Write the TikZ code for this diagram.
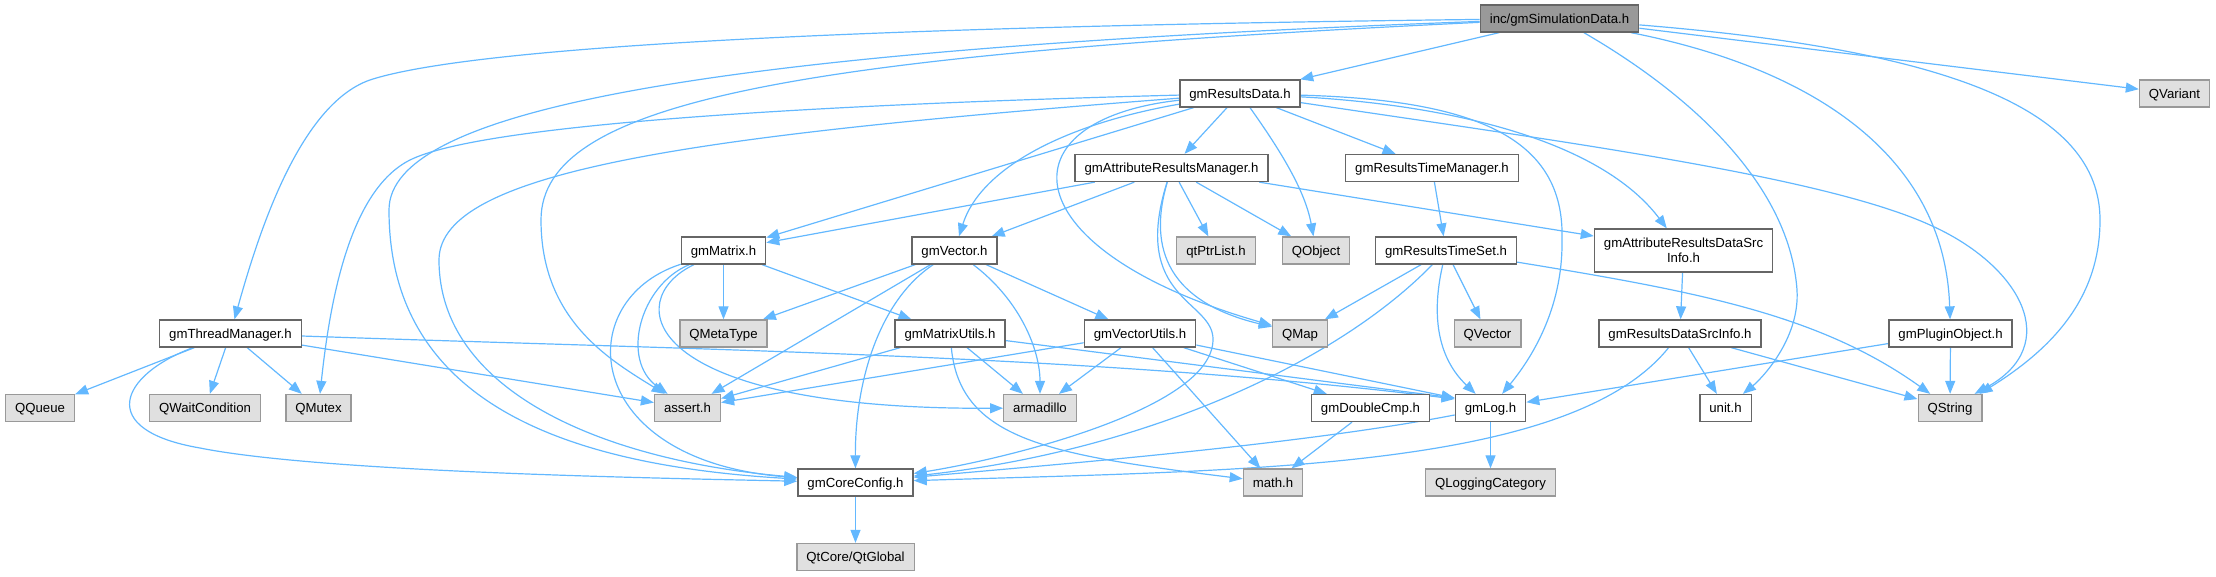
\documentclass[tikz,border=0pt]{standalone}
\usepackage{fontspec}
\setmainfont{Liberation Sans}
\usetikzlibrary{arrows.meta}

\definecolor{depblue}{HTML}{63B8FF}
\definecolor{docline}{HTML}{666666}
\definecolor{extline}{HTML}{999999}
\definecolor{extfill}{HTML}{E0E0E0}
\definecolor{rootfill}{HTML}{999999}

\pgfdeclarelayer{edges}
\pgfsetlayers{edges,main}

\begin{document}
\begin{tikzpicture}[x=1pt,y=-1pt,
  font=\fontsize{13.2}{15.5}\selectfont,
  hdr/.style={draw=docline,line width=1.3pt,fill=white,inner xsep=9.5pt,inner ysep=0pt,
    minimum height=27pt,text height=9.5pt,text depth=0pt},
  ext/.style={hdr,draw=extline,fill=extfill},
  root/.style={hdr,fill=rootfill},
  dep/.style={depblue,line width=1.2pt,-{Triangle[length=13pt,width=10pt]}}]

\useasboundingbox (0,0) rectangle (2216,576);

\node[root] (sim) at (1559.5,18.5) {inc/gmSimulationData.h};

\node[hdr] (resData) at (1240,93.5) {gmResultsData.h};
\node[ext] (qvariant) at (2174.5,93.5) {QVariant};

\node[hdr] (attrMgr) at (1171.5,168) {gmAttributeResultsManager.h};
\node[hdr] (timeMgr) at (1432,168) {gmResultsTimeManager.h};

\node[hdr] (matrix) at (723.5,250.5) {gmMatrix.h};
\node[hdr] (vector) at (954.5,250.5) {gmVector.h};
\node[ext] (ptrList) at (1216,250.5) {qtPtrList.h};
\node[ext] (qobject) at (1316,250.5) {QObject};
\node[hdr] (timeSet) at (1446,250.5) {gmResultsTimeSet.h};
\node[hdr,text height={},text depth={},minimum height=43pt,align=center] (attrSrc) at (1683.5,250.5)
  {gmAttributeResultsDataSrc\\Info.h};

\node[hdr] (thread) at (230.5,333.5) {gmThreadManager.h};
\node[ext] (metaType) at (723.5,333.5) {QMetaType};
\node[hdr] (matUtils) at (950,333.5) {gmMatrixUtils.h};
\node[hdr] (vecUtils) at (1140,333.5) {gmVectorUtils.h};
\node[ext] (qmap) at (1300,333.5) {QMap};
\node[ext] (qvector) at (1487.5,333.5) {QVector};
\node[hdr] (srcInfo) at (1680,333.5) {gmResultsDataSrcInfo.h};
\node[hdr] (plugin) at (1950.5,333.5) {gmPluginObject.h};

\node[ext] (qqueue) at (40,408) {QQueue};
\node[ext] (qwait) at (205,408) {QWaitCondition};
\node[ext] (qmutex) at (318.5,408) {QMutex};
\node[ext] (assert) at (687.5,408) {assert.h};
\node[ext] (arma) at (1040,408) {armadillo};
\node[hdr] (dblCmp) at (1370.5,408) {gmDoubleCmp.h};
\node[hdr] (log) at (1490.5,408) {gmLog.h};
\node[hdr] (unit) at (1725.5,408) {unit.h};
\node[ext] (qstring) at (1950,408) {QString};

\node[hdr] (coreCfg) at (855.5,482.5) {gmCoreConfig.h};
\node[ext] (mathh) at (1273,482.5) {math.h};
\node[ext] (qlogcat) at (1490.5,482.5) {QLoggingCategory};

\node[ext] (qtglobal) at (855.5,557) {QtCore/QtGlobal};

\begin{pgfonlayer}{edges}
\draw[dep] (sim) -- (resData);
\draw[dep] (sim) -- (qvariant);
\draw[dep] (sim) .. controls (1000,25) and (500,40) .. (373,79) .. controls (300,101) and (258,235) .. (thread);
\draw[dep] (sim) .. controls (700,50) and (389,110) .. (389,210) .. controls (389,400) and (560,465) .. (coreCfg);
\draw[dep] (sim) .. controls (800,55) and (541,100) .. (541,220) .. controls (541,320) and (610,360) .. (assert);
\draw[dep] (sim) .. controls (1700,100) and (1790,190) .. (1797,290) .. controls (1800,340) and (1760,380) .. (unit);
\draw[dep] (sim) .. controls (1820,70) and (1945,160) .. (plugin);
\draw[dep] (sim) .. controls (1950,50) and (2100,110) .. (2100,220) .. controls (2100,300) and (2050,350) .. ([xshift=-3pt]qstring.north east);

\draw[dep] (resData) -- (attrMgr);
\draw[dep] (resData) -- (timeMgr);
\draw[dep] (resData) -- (matrix);
\draw[dep] (resData) .. controls (1280,150) and (1305,190) .. (qobject);
\draw[dep] (resData) .. controls (1060,125) and (980,170) .. (vector);
\draw[dep] (resData) .. controls (1000,120) and (1010,250) .. (qmap);
\draw[dep] (resData) .. controls (700,135) and (439,170) .. (439,260) .. controls (439,390) and (600,460) .. (coreCfg);
\draw[dep] (resData) .. controls (800,105) and (480,125) .. (410,160) .. controls (350,190) and (330,300) .. (qmutex);
\draw[dep] (resData) .. controls (1480,100) and (1565,140) .. (1562,240) .. controls (1563,310) and (1530,360) .. (log);
\draw[dep] (resData) .. controls (1450,105) and (1600,140) .. (attrSrc);
\draw[dep] (resData) .. controls (1550,140) and (1820,175) .. (1930,225) .. controls (2020,265) and (2065,345) .. ([xshift=-8pt]qstring.north east);

\draw[dep] (attrMgr) -- (matrix);
\draw[dep] (attrMgr) -- (vector);
\draw[dep] (attrMgr) -- (ptrList);
\draw[dep] (attrMgr) -- (qobject);
\draw[dep] (attrMgr) -- (attrSrc);
\draw[dep] (attrMgr) .. controls (1150,240) and (1160,300) .. (qmap);
\draw[dep] (attrMgr) .. controls (1130,300) and (1214,300) .. (1213,340) .. controls (1212,410) and (1000,460) .. (coreCfg);

\draw[dep] (timeMgr) -- (timeSet);

\draw[dep] (matrix) -- (metaType);
\draw[dep] (matrix) -- (matUtils);
\draw[dep] (matrix) .. controls (640,285) and (620,360) .. (assert);
\draw[dep] (matrix) .. controls (570,300) and (580,460) .. (coreCfg);
\draw[dep] (matrix) .. controls (620,300) and (640,410) .. (arma);

\draw[dep] (vector) -- (metaType);
\draw[dep] (vector) -- (assert);
\draw[dep] (vector) -- (vecUtils);
\draw[dep] (vector) .. controls (880,300) and (855,380) .. (coreCfg);
\draw[dep] (vector) .. controls (1020,300) and (1040,350) .. (arma);

\draw[dep] (thread) -- (qqueue);
\draw[dep] (thread) -- (qwait);
\draw[dep] (thread) -- (qmutex);
\draw[dep] (thread) -- (assert);
\draw[dep] (thread) .. controls (120,375) and (95,430) .. (200,448) .. controls (320,472) and (650,478) .. (coreCfg);
\draw[dep] (thread) .. controls (700,350) and (1100,355) .. ([yshift=9pt]log.west);

\draw[dep] (matUtils) -- (assert);
\draw[dep] (matUtils) -- (arma);
\draw[dep] (matUtils) -- ([yshift=10pt]log.west);
\draw[dep] (matUtils) .. controls (960,440) and (1050,455) .. (mathh);

\draw[dep] (vecUtils) -- (assert);
\draw[dep] (vecUtils) -- (arma);
\draw[dep] (vecUtils) -- (mathh);
\draw[dep] (vecUtils) -- (dblCmp);
\draw[dep] (vecUtils) -- ([yshift=10pt]log.west);

\draw[dep] (timeSet) -- (qmap);
\draw[dep] (timeSet) -- (qvector);
\draw[dep] (timeSet) .. controls (1340,360) and (1150,450) .. (coreCfg);
\draw[dep] (timeSet) .. controls (1430,320) and (1440,360) .. (log);
\draw[dep] (timeSet) .. controls (1700,292) and (1820,315) .. (qstring);

\draw[dep] (attrSrc) -- (srcInfo);
\draw[dep] (srcInfo) -- (unit);
\draw[dep] (srcInfo) -- (qstring);
\draw[dep] (srcInfo) .. controls (1570,470) and (1250,470) .. (coreCfg);

\draw[dep] (plugin) -- (log);
\draw[dep] (plugin) -- (qstring);

\draw[dep] (dblCmp) -- (mathh);
\draw[dep] (log) -- (qlogcat);
\draw[dep] (log) .. controls (1300,445) and (1050,465) .. (coreCfg);
\draw[dep] (coreCfg) -- (qtglobal);
\end{pgfonlayer}
\end{tikzpicture}
\end{document}
